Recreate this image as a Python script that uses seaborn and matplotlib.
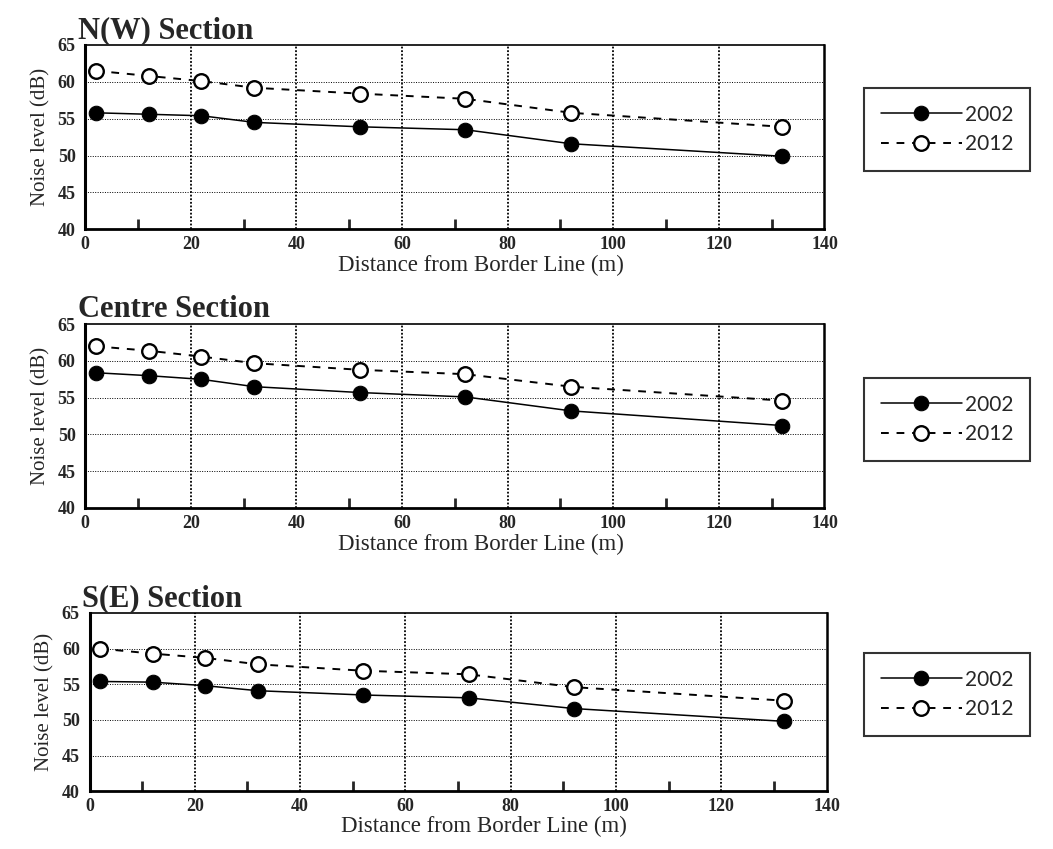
import numpy as np
import pandas as pd
import matplotlib
matplotlib.use("Agg")
import matplotlib.pyplot as plt
import seaborn as sns

DISTANCE = [2, 12, 22, 32, 52, 72, 92, 132]
SECTIONS = ["N(W) Section", "Centre Section", "S(E) Section"]
NW_2002 = [55.8, 55.6, 55.4, 54.5, 53.9, 53.5, 51.6, 49.9]
NW_2012 = [61.5, 60.8, 60.1, 59.2, 58.4, 57.7, 55.8, 53.9]
CENTRE_2002 = [58.4, 58.0, 57.5, 56.5, 55.7, 55.1, 53.2, 51.2]
CENTRE_2012 = [62.0, 61.4, 60.6, 59.7, 58.8, 58.2, 56.5, 54.6]
SE_2002 = [55.4, 55.3, 54.8, 54.1, 53.5, 53.1, 51.6, 49.8]
SE_2012 = [60.0, 59.3, 58.7, 57.8, 56.9, 56.4, 54.6, 52.7]
YEARS = ["2002", "2012"]
X_TICKS = [0, 20, 40, 60, 80, 100, 120, 140]
Y_TICKS = [40, 45, 50, 55, 60, 65]


def make_frame(v2002, v2012):
    return pd.DataFrame({
        "distance": DISTANCE * 2,
        "noise": v2002 + v2012,
        "year": [YEARS[0]] * len(DISTANCE) + [YEARS[1]] * len(DISTANCE),
    })


def plot_section(ax, df, title, legend_top):
    d02 = df[df.year == "2002"]
    d12 = df[df.year == "2012"]
    sns.lineplot(data=d02, x="distance", y="noise", ax=ax, color="black",
                 marker="o", markersize=10.5, markerfacecolor="black",
                 markeredgecolor="black", linewidth=1.1, label="2002")
    sns.lineplot(data=d12, x="distance", y="noise", ax=ax, color="black",
                 marker="o", markersize=10.5, markerfacecolor="white",
                 markeredgecolor="black", markeredgewidth=1.7,
                 linewidth=1.4, dashes=(4, 4), label="2012")
    ax.set_xlim(0, 140)
    ax.set_ylim(40, 65)
    ax.set_xticks(X_TICKS)
    ax.set_yticks(Y_TICKS)
    ax.set_xticks([10, 30, 50, 70, 90, 110, 130], minor=True)
    ax.tick_params(axis="x", which="minor", direction="in", length=7, width=2, bottom=True)
    ax.tick_params(axis="x", which="major", length=0, pad=5, labelsize=13)
    ax.tick_params(axis="y", which="major", length=0, pad=7, labelsize=13)
    for lab in ax.get_xticklabels() + ax.get_yticklabels():
        lab.set_fontweight("bold")
    ax.grid(False)
    for yv in [45, 50, 55, 60]:
        ax.axhline(yv, color="black", linestyle=(0, (1, 1.5)), linewidth=0.7, zorder=0)
    for xv in [20, 40, 60, 80, 100, 120]:
        ax.axvline(xv, color="black", linestyle=(0, (1, 1)), linewidth=1.3, zorder=0)
    for sp in ax.spines.values():
        sp.set_visible(True)
        sp.set_color("black")
    ax.spines["left"].set_linewidth(2.2)
    ax.spines["bottom"].set_linewidth(2.0)
    ax.spines["right"].set_linewidth(1.8)
    ax.spines["top"].set_linewidth(1.2)
    ax.set_xlabel("Distance from Border Line (m)", fontsize=16.5)
    # label sits a little right of centre in the original
    ax.xaxis.set_label_coords(0.535, -0.14)
    ax.set_ylabel("Noise level (dB)", fontsize=15, labelpad=5)
    ax.set_title(title, loc="left", fontsize=22, fontweight="bold", pad=4, x=-0.01)
    leg = ax.legend(loc="upper left", bbox_to_anchor=(864 / 1053, legend_top),
                    bbox_transform=ax.figure.transFigure, frameon=True,
                    fancybox=False, edgecolor="black",
                    handlelength=3.9, borderpad=0.8, labelspacing=0.45,
                    handletextpad=0.15, borderaxespad=0,
                    prop={"family": "Lato", "size": 15})
    leg.get_frame().set_linewidth(1.5)


def main():
    sns.set_style("ticks")
    plt.rcParams["font.family"] = ["Liberation Serif", "DejaVu Serif"]
    fig = plt.figure(figsize=(10.53, 8.49), dpi=100)
    frames = [make_frame(NW_2002, NW_2012),
              make_frame(CENTRE_2002, CENTRE_2012),
              make_frame(SE_2002, SE_2012)]
    # axes placed to match the original page layout
    boxes = [(0.081, 0.730, 0.702, 0.217),
             (0.081, 0.402, 0.702, 0.216),
             (0.085, 0.068, 0.700, 0.210)]
    legend_tops = [1 - 88 / 849, 1 - 378 / 849, 1 - 653 / 849]
    for box, df, title, lt in zip(boxes, frames, SECTIONS, legend_tops):
        ax = fig.add_axes(box)
        plot_section(ax, df, title, lt)
    fig.savefig("out.png", dpi=100)


if __name__ == "__main__":
    main()
